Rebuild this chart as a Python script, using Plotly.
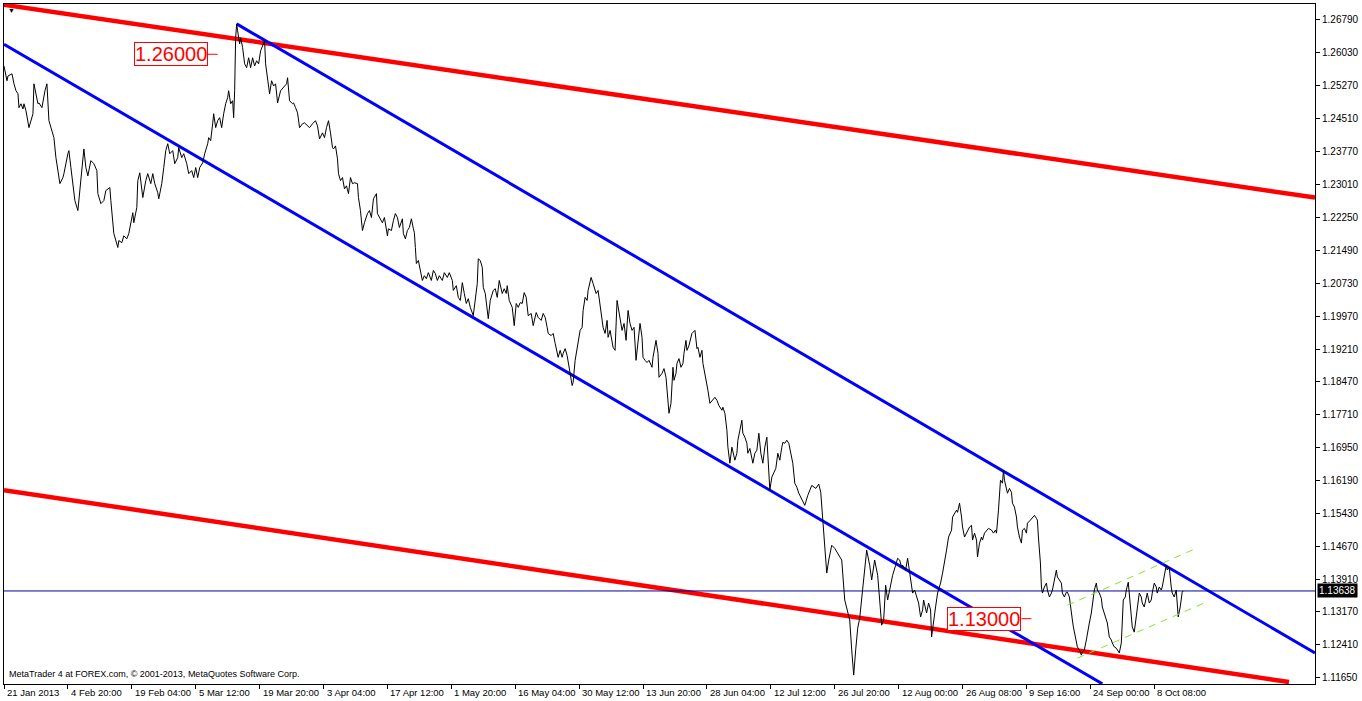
import plotly.graph_objects as go

# ---------------- data (H4 bar index, close price) ----------------
bar_index = [
    0, 3, 4, 8, 10, 12, 14, 15, 17, 19,
    20, 22, 25, 29, 30, 32, 34, 35, 38, 41,
    43, 45, 48, 50, 52, 54, 56, 59, 60, 64,
    65, 67, 69, 71, 74, 76, 78, 80, 82, 84,
    87, 90, 93, 94, 97, 100, 102, 104, 106, 107,
    109, 110, 114, 115, 118, 120, 123, 125, 129, 130,
    133, 134, 136, 139, 142, 144, 147, 149, 151, 154,
    155, 158, 160, 162, 164, 166, 169, 171, 174, 175,
    178, 180, 183, 185, 188, 190, 192, 194, 196, 199,
    201, 204, 205, 207, 209, 210, 212, 214, 216, 218,
    220, 222, 224, 225, 227, 229, 230, 231, 232, 233,
    234, 236, 237, 239, 241, 243, 245, 247, 249, 251,
    253, 255, 257, 260, 261, 262, 265, 266, 268, 270,
    272, 274, 277, 280, 283, 284, 286, 289, 290, 292,
    294, 296, 299, 301, 304, 306, 309, 312, 314, 316,
    319, 321, 323, 325, 327, 329, 330, 332, 334, 335,
    337, 339, 341, 343, 345, 347, 349, 351, 354, 355,
    357, 359, 361, 364, 366, 368, 370, 373, 374, 376,
    379, 381, 384, 385, 388, 390, 392, 394, 396, 399,
    400, 402, 404, 406, 408, 410, 411, 412, 413, 415,
    417, 419, 421, 423, 425, 428, 430, 432, 434, 436,
    439, 441, 444, 446, 449, 450, 453, 455, 457, 459,
    461, 463, 465, 467, 470, 472, 474, 475, 477, 479,
    480, 482, 484, 485, 487, 490, 492, 494, 496, 499,
    501, 503, 504, 506, 509, 511, 513, 515, 517, 519,
    521, 523, 525, 528, 530, 533, 535, 538, 540, 542,
    544, 545, 548, 550, 552, 554, 555, 557, 559, 560,
    562, 564, 565, 567, 569, 570, 572, 574, 575, 577,
    579, 580, 582, 584, 585, 587, 588, 590, 591, 593,
    595, 597, 599, 600, 602, 604, 605, 607, 610, 612,
    614, 615, 617, 619, 621, 623, 625, 627, 629, 631,
    633, 635, 637, 639, 640, 642, 644, 646, 649, 650,
    652, 653, 655, 656, 659, 661, 663, 664, 666, 668,
    670, 671, 673, 674, 676, 678, 680, 681, 683, 684,
    686, 689, 690, 692, 694, 695, 697, 699, 700, 702,
    704, 705, 707, 710, 712, 714, 716, 719, 720, 722,
    724, 725, 727, 729, 730, 732, 734, 735, 737, 739,
    740, 742, 744, 745, 747, 749, 750, 752, 754, 756,
    758, 760, 762, 764, 765, 767, 769, 771, 773, 775,
    777, 779, 780, 782, 784, 786, 788, 790, 792, 794,
    796, 799, 802, 805, 809, 813, 816, 818, 820, 822,
    824, 826, 829, 832, 835, 839, 842, 845, 847, 849,
    851, 853, 855, 857, 859, 862, 864, 867, 869, 872,
    875, 877, 879, 881, 883, 885, 887, 890, 893, 895,
    897, 899, 900, 903, 905, 907, 909, 910, 912, 914,
    916, 918, 920, 921, 923, 924, 926, 928, 929, 931,
    933, 935, 938, 940, 942, 944, 946, 949, 950, 952,
    954, 955, 957, 959, 960, 962, 964, 965, 967, 969,
    970, 972, 974, 975, 977, 979, 980, 982, 984, 986,
    989, 991, 993, 994, 996, 998, 1000, 1001, 1002, 1004,
    1005, 1007, 1009, 1010, 1012, 1014, 1015, 1017, 1019, 1020,
    1022, 1024, 1025, 1028, 1030, 1032, 1034, 1035, 1036, 1038,
    1039, 1040, 1042, 1044, 1045, 1047, 1049, 1050, 1052, 1054,
    1055, 1057, 1059, 1060, 1062, 1064, 1065, 1067, 1068, 1070,
    1071, 1073, 1075, 1077, 1079, 1080, 1082, 1084, 1085, 1087,
    1089, 1090, 1092, 1094, 1095, 1097, 1099, 1100, 1102, 1104,
    1105, 1107, 1109, 1110, 1112, 1114, 1115, 1117, 1119, 1120,
    1121, 1123, 1124, 1126, 1127, 1129, 1130, 1132, 1134, 1135,
    1137, 1139, 1140, 1142, 1144, 1145, 1147, 1149, 1150, 1152,
    1154, 1155, 1157, 1159, 1160, 1162, 1164, 1165, 1167, 1169,
    1170, 1172, 1174, 1175, 1176, 1178, 1179, 1180, 1181,
]

close = [
    1.2573, 1.2539, 1.2550, 1.2555, 1.2532, 1.2516, 1.2509, 1.2477, 1.2486, 1.2474,
    1.2486, 1.2470, 1.2431, 1.2463, 1.2532, 1.2509, 1.2486, 1.2488, 1.2477, 1.2516,
    1.2532, 1.2447, 1.2424, 1.2408, 1.2362, 1.2332, 1.2302, 1.2316, 1.2325, 1.2371,
    1.2378, 1.2339, 1.2302, 1.2263, 1.2240, 1.2286, 1.2339, 1.2382, 1.2339, 1.2320,
    1.2355, 1.2348, 1.2332, 1.2279, 1.2256, 1.2263, 1.2286, 1.2290, 1.2293, 1.2263,
    1.2201, 1.2187, 1.2155, 1.2171, 1.2166, 1.2182, 1.2175, 1.2187, 1.2235, 1.2212,
    1.2247, 1.2309, 1.2327, 1.2270, 1.2309, 1.2325, 1.2302, 1.2325, 1.2302, 1.2281,
    1.2267, 1.2302, 1.2339, 1.2378, 1.2394, 1.2371, 1.2378, 1.2348, 1.2362, 1.2385,
    1.2362, 1.2371, 1.2348, 1.2325, 1.2332, 1.2316, 1.2339, 1.2316, 1.2339, 1.2350,
    1.2371, 1.2394, 1.2408, 1.2401, 1.2440, 1.2463, 1.2431, 1.2447, 1.2454, 1.2431,
    1.2463, 1.2486, 1.2500, 1.2516, 1.2486, 1.2493, 1.2454, 1.2516, 1.2638, 1.2670,
    1.2654, 1.2624, 1.2638, 1.2615, 1.2578, 1.2569, 1.2592, 1.2569, 1.2592, 1.2573,
    1.2585, 1.2578, 1.2608, 1.2626, 1.2631, 1.2578, 1.2527, 1.2509, 1.2539, 1.2527,
    1.2532, 1.2488, 1.2516, 1.2523, 1.2532, 1.2546, 1.2493, 1.2486, 1.2488, 1.2477,
    1.2465, 1.2431, 1.2440, 1.2442, 1.2435, 1.2431, 1.2440, 1.2447, 1.2435, 1.2405,
    1.2419, 1.2408, 1.2431, 1.2447, 1.2419, 1.2385, 1.2382, 1.2389, 1.2359, 1.2325,
    1.2309, 1.2316, 1.2290, 1.2297, 1.2279, 1.2316, 1.2302, 1.2304, 1.2302, 1.2270,
    1.2240, 1.2194, 1.2212, 1.2233, 1.2240, 1.2224, 1.2267, 1.2279, 1.2233, 1.2224,
    1.2212, 1.2224, 1.2182, 1.2198, 1.2194, 1.2217, 1.2233, 1.2224, 1.2201, 1.2221,
    1.2187, 1.2175, 1.2194, 1.2201, 1.2221, 1.2198, 1.2189, 1.2155, 1.2118, 1.2125,
    1.2102, 1.2079, 1.2090, 1.2083, 1.2097, 1.2079, 1.2102, 1.2095, 1.2079, 1.2090,
    1.2079, 1.2097, 1.2086, 1.2097, 1.2079, 1.2056, 1.2067, 1.2040, 1.2033, 1.2074,
    1.2049, 1.2026, 1.2037, 1.2017, 1.1998, 1.2033, 1.2072, 1.2129, 1.2125, 1.2109,
    1.2063, 1.2049, 1.2017, 1.1991, 1.2033, 1.2056, 1.2060, 1.2040, 1.2079, 1.2049,
    1.2060, 1.2049, 1.2067, 1.2033, 1.2017, 1.1975, 1.2026, 1.2017, 1.2028, 1.2026,
    1.2051, 1.2040, 1.1998, 1.2003, 1.1975, 1.2005, 1.1994, 1.1987, 1.2003, 1.1994,
    1.1971, 1.1957, 1.1952, 1.1957, 1.1934, 1.1911, 1.1902, 1.1918, 1.1902, 1.1911,
    1.1922, 1.1906, 1.1895, 1.1865, 1.1837, 1.1844, 1.1895, 1.1925, 1.1941, 1.1964,
    1.1971, 1.2010, 1.2040, 1.2033, 1.2056, 1.2079, 1.2086, 1.2072, 1.2063, 1.2049,
    1.2056, 1.2026, 1.1994, 1.1971, 1.1957, 1.1987, 1.1948, 1.1964, 1.1925, 1.1918,
    1.2033, 1.2017, 1.1994, 1.1964, 1.1980, 1.1941, 1.2010, 1.1980, 1.1964, 1.1971,
    1.1895, 1.1934, 1.1980, 1.1948, 1.1902, 1.1895, 1.1890, 1.1895, 1.1879, 1.1902,
    1.1925, 1.1941, 1.1911, 1.1856, 1.1865, 1.1876, 1.1856, 1.1833, 1.1773, 1.1796,
    1.1879, 1.1849, 1.1865, 1.1888, 1.1899, 1.1879, 1.1888, 1.1911, 1.1941, 1.1918,
    1.1929, 1.1957, 1.1959, 1.1964, 1.1922, 1.1925, 1.1902, 1.1918, 1.1888, 1.1865,
    1.1842, 1.1826, 1.1796, 1.1803, 1.1810, 1.1803, 1.1791, 1.1780, 1.1787, 1.1773,
    1.1734, 1.1695, 1.1658, 1.1695, 1.1683, 1.1665, 1.1681, 1.1711, 1.1734, 1.1757,
    1.1727, 1.1718, 1.1704, 1.1681, 1.1692, 1.1672, 1.1658, 1.1681, 1.1688, 1.1727,
    1.1681, 1.1658, 1.1695, 1.1718, 1.1681, 1.1596, 1.1626, 1.1635, 1.1646, 1.1681,
    1.1665, 1.1695, 1.1706, 1.1704, 1.1711, 1.1704, 1.1681, 1.1658, 1.1612, 1.1603,
    1.1589, 1.1573, 1.1561, 1.1584, 1.1607, 1.1600, 1.1610, 1.1591, 1.1527, 1.1469,
    1.1405, 1.1435, 1.1469, 1.1462, 1.1451, 1.1435, 1.1343, 1.1315, 1.1297, 1.1228,
    1.1170, 1.1228, 1.1278, 1.1301, 1.1343, 1.1407, 1.1458, 1.1423, 1.1389, 1.1435,
    1.1400, 1.1343, 1.1285, 1.1297, 1.1377, 1.1343, 1.1366, 1.1400, 1.1423, 1.1439,
    1.1435, 1.1419, 1.1423, 1.1412, 1.1439, 1.1405, 1.1382, 1.1359, 1.1366, 1.1350,
    1.1336, 1.1304, 1.1320, 1.1343, 1.1327, 1.1313, 1.1336, 1.1320, 1.1258, 1.1297,
    1.1327, 1.1359, 1.1382, 1.1405, 1.1428, 1.1458, 1.1488, 1.1504, 1.1534, 1.1543,
    1.1550, 1.1545, 1.1566, 1.1534, 1.1511, 1.1488, 1.1497, 1.1504, 1.1511, 1.1515,
    1.1481, 1.1497, 1.1481, 1.1442, 1.1474, 1.1488, 1.1481, 1.1497, 1.1504, 1.1508,
    1.1504, 1.1497, 1.1504, 1.1497, 1.1550, 1.1619, 1.1612, 1.1642, 1.1619, 1.1603,
    1.1589, 1.1600, 1.1591, 1.1566, 1.1557, 1.1534, 1.1511, 1.1488, 1.1474, 1.1504,
    1.1508, 1.1497, 1.1520, 1.1527, 1.1534, 1.1538, 1.1531, 1.1527, 1.1488, 1.1428,
    1.1373, 1.1359, 1.1373, 1.1382, 1.1366, 1.1350, 1.1359, 1.1366, 1.1389, 1.1412,
    1.1396, 1.1389, 1.1382, 1.1359, 1.1350, 1.1361, 1.1361, 1.1350, 1.1327, 1.1297,
    1.1281, 1.1258, 1.1235, 1.1228, 1.1216, 1.1223, 1.1228, 1.1251, 1.1267, 1.1290,
    1.1313, 1.1336, 1.1366, 1.1382, 1.1366, 1.1359, 1.1347, 1.1327, 1.1313, 1.1297,
    1.1290, 1.1258, 1.1251, 1.1244, 1.1235, 1.1232, 1.1228, 1.1221, 1.1244, 1.1290,
    1.1343, 1.1350, 1.1366, 1.1384, 1.1359, 1.1313, 1.1281, 1.1269, 1.1304, 1.1320,
    1.1359, 1.1350, 1.1336, 1.1327, 1.1350, 1.1359, 1.1336, 1.1343, 1.1359, 1.1382,
    1.1373, 1.1359, 1.1373, 1.1366, 1.1373, 1.1396, 1.1423, 1.1412, 1.1419, 1.1373,
    1.1359, 1.1350, 1.1366, 1.1336, 1.1304, 1.1327, 1.1343, 1.1361, 1.13638,
]
assert len(bar_index) == len(close)

# trend lines (bar index, price endpoints)
red_upper_bars = [0, 1313]
red_upper_prices = [1.2714, 1.2270]
red_lower_bars = [0, 1287]
red_lower_prices = [1.1596, 1.1154]
blue_upper_bars = [233, 1313]
blue_upper_prices = [1.2670, 1.1221]
blue_lower_bars = [0, 1100]
blue_lower_prices = [1.2623, 1.1150]
green_upper_bars = [1065, 1194]
green_upper_prices = [1.1331, 1.1462]
green_lower_bars = [1075, 1205]
green_lower_prices = [1.1209, 1.1339]

current_price = 1.13638
level_prices = [1.26000, 1.13000]
level_label_bars = [204, 1019]

x_tick_bars = [0, 64, 128, 192, 256, 320, 384, 448, 512, 576, 640, 704,
               768, 832, 896, 960, 1024, 1088, 1152]
x_tick_labels = ["21 Jan 2013", "4 Feb 20:00", "19 Feb 04:00", "5 Mar 12:00",
                 "19 Mar 20:00", "3 Apr 04:00", "17 Apr 12:00", "1 May 20:00",
                 "16 May 04:00", "30 May 12:00", "13 Jun 20:00", "28 Jun 04:00",
                 "12 Jul 12:00", "26 Jul 20:00", "12 Aug 00:00", "26 Aug 08:00",
                 "9 Sep 16:00", "24 Sep 00:00", "8 Oct 08:00"]
y_tick_values = [1.11650, 1.12410, 1.13170, 1.13910, 1.14670, 1.15430, 1.16190,
                 1.16950, 1.17710, 1.18470, 1.19210, 1.19970, 1.20730, 1.21490,
                 1.22250, 1.23010, 1.23770, 1.24510, 1.25270, 1.26030, 1.26790]

FONT = "Liberation Sans, Arial, sans-serif"
X_MAX = 1313

fig = go.Figure()

def line(xs, ys, color, width, dash="solid"):
    fig.add_trace(go.Scatter(x=xs, y=ys, mode="lines", hoverinfo="skip",
                             line=dict(color=color, width=width, dash=dash),
                             showlegend=False))

line(red_upper_bars, red_upper_prices, "#ff0000", 4.5)
line(red_lower_bars, red_lower_prices, "#ff0000", 4.5)
line(blue_upper_bars, blue_upper_prices, "#0000ff", 3)
line(blue_lower_bars, blue_lower_prices, "#0000ff", 3)
line([0, X_MAX], [current_price, current_price], "#00009c", 1)
line(bar_index, close, "#000000", 1)
line(green_upper_bars, green_upper_prices, "#86e62a", 1, "7px,6px")
line(green_lower_bars, green_lower_prices, "#86e62a", 1, "7px,6px")
for b, p in zip(level_label_bars, level_prices):
    line([b, b + 10], [p, p], "#ff0000", 1)

annotations = []
for b, p in zip(level_label_bars, level_prices):
    annotations.append(dict(x=b, y=p, xref="x", yref="y", text=f"{p:.5f}",
                            showarrow=False, xanchor="right", yanchor="middle",
                            font=dict(family=FONT, size=20, color="#ff0000"),
                            bgcolor="white", bordercolor="#ff0000",
                            borderwidth=1, borderpad=0))
for b, t in zip(x_tick_bars, x_tick_labels):
    annotations.append(dict(x=b, y=0, xref="x", yref="paper", text=t,
                            showarrow=False, xanchor="left", yanchor="top",
                            xshift=1, yshift=-1,
                            font=dict(family=FONT, size=9.5, color="black")))
annotations.append(dict(x=0, y=0, xref="paper", yref="paper",
                        text="MetaTrader 4 at FOREX.com, © 2001-2013, MetaQuotes Software Corp.",
                        showarrow=False, xanchor="left", yanchor="bottom",
                        xshift=3, yshift=3,
                        font=dict(family=FONT, size=9, color="black")))
annotations.append(dict(x=0, y=1, xref="paper", yref="paper", text="▼",
                        showarrow=False, xanchor="left", yanchor="top",
                        xshift=2, yshift=-1,
                        font=dict(family=FONT, size=7, color="black")))
annotations.append(dict(x=1, y=current_price, xref="paper", yref="y",
                        text=f"{current_price:.5f}", showarrow=False,
                        xanchor="left", yanchor="middle", xshift=2,
                        font=dict(family=FONT, size=10, color="white"),
                        bgcolor="black", borderpad=1))

fig.update_layout(
    width=1362, height=701,
    margin=dict(l=3, r=46, t=3, b=17),
    paper_bgcolor="white", plot_bgcolor="white",
    showlegend=False,
    annotations=annotations,
    xaxis=dict(range=[0, X_MAX], showgrid=False, zeroline=False,
               showline=True, mirror=True, linecolor="black", linewidth=1,
               ticks="outside", ticklen=4, tickcolor="black",
               tickvals=x_tick_bars, showticklabels=False, fixedrange=True),
    yaxis=dict(range=[1.11495, 1.27158], side="right", showgrid=False,
               zeroline=False, showline=True, mirror=True, linecolor="black",
               linewidth=1, ticks="outside", ticklen=4, tickcolor="black",
               tickvals=y_tick_values,
               ticktext=[f"{v:.5f}" for v in y_tick_values],
               tickfont=dict(family=FONT, size=10, color="black"),
               fixedrange=True),
)

fig.write_html(
    "out.html",
    config={"displayModeBar": False},
    post_script="document.body.style.margin='0';document.body.style.padding='0';"
                "document.body.style.overflow='hidden';",
)
